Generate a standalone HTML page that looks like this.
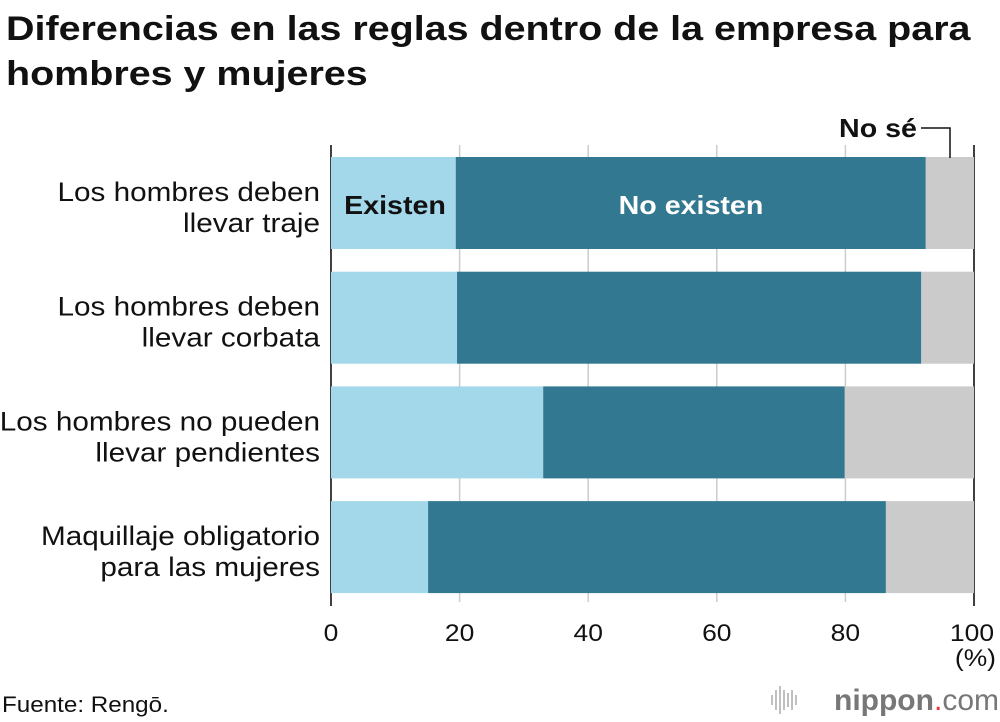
<!DOCTYPE html>
<html><head><meta charset="utf-8"><style>
body{margin:0;background:#fff;}
svg{display:block;font-family:"Liberation Sans",Arial,sans-serif;}
</style></head><body>
<svg id="svg" width="1000" height="722" viewBox="0 0 1000 722">
<text class="w" data-f="1.16" x="6" y="40" font-size="34" font-weight="bold" fill="#111">Diferencias en las reglas dentro de la empresa para</text>
<text class="w" data-f="1.16" x="6" y="85" font-size="34" font-weight="bold" fill="#111">hombres y mujeres</text>
<g id="grid"></g>
<g id="bars"></g>
<g id="labels"></g>
<g id="ticks"></g>
<text class="w" data-f="1.1" x="395" y="214" font-size="26" font-weight="bold" fill="#111" text-anchor="middle">Existen</text>
<text class="w" data-f="1.1" x="691" y="214" font-size="26" font-weight="bold" fill="#fff" text-anchor="middle">No existen</text>
<text class="w" data-f="1.1" x="878" y="137" font-size="26" font-weight="bold" fill="#111" text-anchor="middle">No sé</text>
<polyline points="921,128 950,128 950,158" fill="none" stroke="#111" stroke-width="1.5"/>
<text class="w" data-f="1.1" x="996" y="666" font-size="24" fill="#111" text-anchor="end">(%)</text>
<text class="w" data-f="1.1" x="2" y="712" font-size="22" fill="#111">Fuente: Rengō.</text>
<g>
<g stroke="#aaa" stroke-width="1.5"><line x1="772" y1="695" x2="772" y2="705"/><line x1="776" y1="690" x2="776" y2="710"/><line x1="780" y1="686" x2="780" y2="714"/><line x1="784" y1="690" x2="784" y2="710"/><line x1="788" y1="693" x2="788" y2="707"/><line x1="792" y1="690" x2="792" y2="710"/><line x1="796" y1="695" x2="796" y2="705"/></g>
<text x="999" y="710" font-size="30" fill="#777" text-anchor="end"><tspan font-weight="bold">nippon</tspan><tspan fill="#e33">.</tspan><tspan>com</tspan></text>
</g>
</svg>
<script>
const categories1=["Los hombres deben","Los hombres deben","Los hombres no pueden","Maquillaje obligatorio"];
const categories2=["llevar traje","llevar corbata","llevar pendientes","para las mujeres"];
const existen=[19.4,19.6,33.0,15.1];
const noExisten=[73.1,72.2,46.9,71.2];
const noSe=[7.5,8.2,20.1,13.7];
const tickLabels=["0","20","40","60","80","100"];
const tickValues=[0,20,40,60,80,100];
const NS="http://www.w3.org/2000/svg";
const x0=331,x1=974;
const xs=v=>x0+(x1-x0)*v/100;
const rowY=i=>157+i*114.7;
const bh=92;
function mk(tag,attrs,parent,txt){const e=document.createElementNS(NS,tag);for(const k in attrs)e.setAttribute(k,attrs[k]);if(txt!==undefined)e.textContent=txt;document.getElementById(parent).appendChild(e);return e;}
tickValues.forEach((v,i)=>{
  const isEdge=(v===0||v===100);
  const g=mk('line',{x1:xs(v),x2:xs(v),y1:145,y2:isEdge?606:602,stroke:isEdge?'#111':'#ccc','stroke-width':isEdge?1.6:1.5},'grid');
  
  
  const t=mk('text',{x:xs(v)-(v===100?2:0),y:641,'font-size':24,fill:'#111','text-anchor':'middle','class':'w','data-f':'1.1'},'ticks',tickLabels[i]);
  
  
});
categories1.forEach((c,i)=>{
  const y=rowY(i);
  const a=existen[i],b=noExisten[i],s=noSe[i];
  const r1=mk('rect',{x:xs(0),y:y,width:xs(a)-xs(0),height:bh,fill:'#a2d8ea'},'bars');
  
  
  const r2=mk('rect',{x:xs(a),y:y,width:xs(a+b)-xs(a),height:bh,fill:'#327891'},'bars');
  
  
  const r3=mk('rect',{x:xs(a+b),y:y,width:xs(a+b+s)-xs(a+b),height:bh,fill:'#cbcbcb'},'bars');
  
  
  const t1=mk('text',{x:320,y:y+44,'font-size':27,fill:'#111','text-anchor':'end','class':'w','data-f':'1.1'},'labels',c);
  
  
  const t2=mk('text',{x:320,y:y+75,'font-size':27,fill:'#111','text-anchor':'end','class':'w','data-f':'1.1'},'labels',categories2[i]);
  
  
});
document.querySelectorAll('text.w').forEach(t=>{
  const L=t.getComputedTextLength();
  const f=parseFloat(t.getAttribute('data-f'));
  t.setAttribute('textLength',(L*f).toFixed(1));
  t.setAttribute('lengthAdjust','spacingAndGlyphs');
});
</script>
</body></html>
